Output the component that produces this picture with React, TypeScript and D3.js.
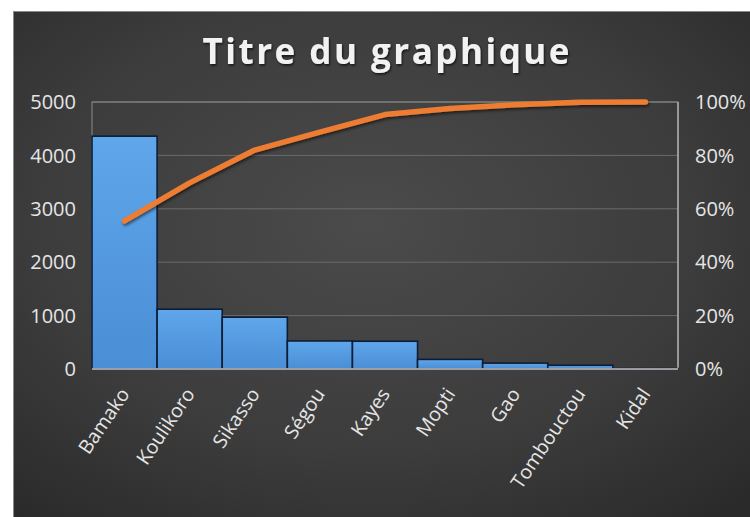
import React from "react";
import * as d3 from "d3";

const categories = ["Bamako", "Koulikoro", "Sikasso", "Ségou", "Kayes", "Mopti", "Gao", "Tombouctou", "Kidal"];
const counts = [4360, 1120, 970, 525, 520, 180, 110, 70, 8];
const cumulativePct = [0.555, 0.697, 0.82, 0.887, 0.953, 0.976, 0.99, 0.999, 1.0];
const leftTicks = [0, 1000, 2000, 3000, 4000, 5000];
const rightTicks = [0, 0.2, 0.4, 0.6, 0.8, 1.0];
const title = "Titre du graphique";

const W = 750, H = 517;
const plot = { left: 92, right: 678, top: 102, bottom: 369 };
const FONT = "'Open Sans', 'DejaVu Sans', sans-serif";

export default function App() {
  const x = d3.scaleBand<string>().domain(categories).range([plot.left, plot.right]).padding(0);
  const yL = d3.scaleLinear().domain([0, 5000]).range([plot.bottom, plot.top]);
  const yR = d3.scaleLinear().domain([0, 1]).range([plot.bottom, plot.top]);
  const line = d3.line<number>()
    .x((_, i) => (x(categories[i]) as number) + x.bandwidth() / 2)
    .y((d) => yR(d));
  const pctFmt = d3.format(".0%");

  return (
    <svg width={W} height={H} style={{ position: "absolute", left: 0, top: 0 }} fontFamily={FONT}>
      <defs>
        <radialGradient id="bg" cx="0.48" cy="0.42" r="0.75">
          <stop offset="0" stopColor="#4b4b4b" />
          <stop offset="0.6" stopColor="#3c3c3c" />
          <stop offset="1" stopColor="#2a2a2a" />
        </radialGradient>
        <linearGradient id="bar" x1="0" y1="0" x2="0" y2="1">
          <stop offset="0" stopColor="#5fa6ea" />
          <stop offset="1" stopColor="#4a8ed6" />
        </linearGradient>
        <filter id="shadow" x="-10%" y="-30%" width="120%" height="160%">
          <feDropShadow dx="1" dy="2" stdDeviation="1.5" floodColor="#000" floodOpacity="0.55" />
        </filter>
        <filter id="tshadow" x="-5%" y="-30%" width="110%" height="160%">
          <feDropShadow dx="1" dy="1.5" stdDeviation="1.2" floodColor="#000" floodOpacity="0.7" />
        </filter>
      </defs>
      <rect x={0} y={0} width={W} height={H} fill="#ffffff" />
      <rect x={13.5} y={11.5} width={W - 13} height={H - 11} fill="url(#bg)" stroke="#8a8a8a" strokeWidth={1} />

      <text x={386} y={64} textAnchor="middle" fill="#f2f2f2" fontSize={35} fontWeight={700}
        textLength={367} lengthAdjust="spacing" filter="url(#tshadow)">{title}</text>

      {/* gridlines */}
      {leftTicks.map((t) => (
        <line key={"g" + t} x1={plot.left} x2={plot.right} y1={yL(t)} y2={yL(t)} stroke="#6b6b6b" strokeWidth={1} />
      ))}
      <rect x={plot.left} y={plot.top} width={plot.right - plot.left} height={plot.bottom - plot.top}
        fill="none" stroke="#8c8c8c" strokeWidth={1} />
      <line x1={plot.right} x2={plot.right} y1={plot.top} y2={plot.bottom} stroke="#bdbdbd" strokeWidth={1.2} />

      {/* bars */}
      {counts.map((v, i) => (
        <rect key={categories[i]} x={x(categories[i]) as number} y={yL(v)} width={x.bandwidth()}
          height={plot.bottom - yL(v)} fill="url(#bar)" stroke="#0e1d36" strokeWidth={1.6} />
      ))}
      <line x1={plot.left} x2={plot.right} y1={plot.bottom} y2={plot.bottom} stroke="#c4c4c4" strokeWidth={1.5} />

      {/* pareto line */}
      <path d={line(cumulativePct) as string} fill="none" stroke="#ed7d31" strokeWidth={5.5}
        strokeLinecap="round" strokeLinejoin="round" filter="url(#shadow)" />

      {/* left axis labels */}
      {leftTicks.map((t) => (
        <text key={"l" + t} x={76} y={yL(t)} dy="0.36em" textAnchor="end" fill="#e6e6e6" fontSize={20}>{t}</text>
      ))}
      {/* right axis labels */}
      {rightTicks.map((t) => (
        <text key={"r" + t} x={695} y={yR(t)} dy="0.36em" textAnchor="start" fill="#e6e6e6" fontSize={20}>{pctFmt(t)}</text>
      ))}
      {/* category labels */}
      {categories.map((c) => {
        const cx = (x(c) as number) + x.bandwidth() / 2;
        const cy = 390;
        return (
          <text key={"c" + c} x={cx} y={cy} dy="0.36em" textAnchor="end" fill="#e6e6e6" fontSize={19.5}
            transform={`rotate(-56, ${cx}, ${cy})`}>{c}</text>
        );
      })}
    </svg>
  );
}
